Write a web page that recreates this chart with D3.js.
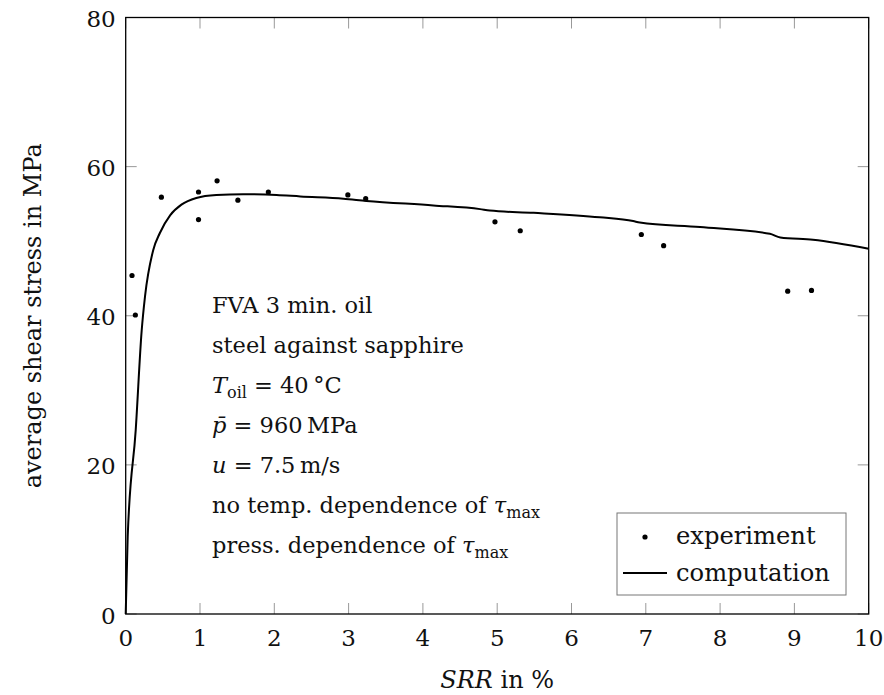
<!DOCTYPE html>
<html>
<head>
<meta charset="utf-8">
<script src="https://cdn.jsdelivr.net/npm/d3@7/dist/d3.min.js"></script>
<style>
  html, body { margin: 0; padding: 0; background: #fff; }
  svg { display: block; }
  text { font-family: "DejaVu Serif", "Liberation Serif", serif; fill: #111; }
</style>
</head>
<body>
<svg id="chart" width="884" height="695"></svg>
<script>
// Measured shear stress (experiment)
const expSRR    = [0.085, 0.13, 0.48, 0.98, 0.98, 1.23, 1.51, 1.92, 2.99, 3.23, 4.97, 5.31, 6.94, 7.24, 8.91, 9.23];
const expStress = [45.4, 40.1, 55.9, 56.6, 52.9, 58.1, 55.5, 56.6, 56.2, 55.7, 52.6, 51.4, 50.9, 49.4, 43.3, 43.4];

// Computed shear stress (model)
const compSRR    = [0, 0.027, 0.135, 0.215, 0.26, 0.37, 0.46, 0.6, 0.75, 0.95, 1.22, 1.58, 2.03, 2.35, 2.93, 3.24, 4.14, 4.77, 4.9, 5.49, 6.38, 6.83, 6.92, 7.73, 8.67, 8.81, 9.25, 10];
const compStress = [0, 10.4, 24.7, 38.0, 42.6, 48.8, 51.1, 53.5, 54.9, 55.8, 56.2, 56.3, 56.2, 56.0, 55.7, 55.4, 54.8, 54.3, 54.1, 53.8, 53.2, 52.7, 52.5, 51.9, 51.0, 50.5, 50.2, 49.0];

// Axis ticks
const xTicks = [0, 1, 2, 3, 4, 5, 6, 7, 8, 9, 10];
const yTicks = [0, 20, 40, 60, 80];

const svg = d3.select("#chart");
const pLeft = 125.7, pRight = 868.7, pTop = 17.5, pBottom = 614;

const x = d3.scaleLinear().domain([0, 10]).range([pLeft, pRight]);
const y = d3.scaleLinear().domain([0, 80]).range([pBottom, pTop]);

const tickLen = 11;
const tickColor = "#999";

// tick marks on all four sides, pointing inward
const g = svg.append("g");
g.append("g").selectAll("line").data(xTicks).join("line")
  .attr("x1", d => x(d)).attr("x2", d => x(d))
  .attr("y1", pBottom).attr("y2", pBottom - tickLen)
  .attr("stroke", tickColor).attr("stroke-width", 1);
g.append("g").selectAll("line").data(xTicks).join("line")
  .attr("x1", d => x(d)).attr("x2", d => x(d))
  .attr("y1", pTop).attr("y2", pTop + tickLen)
  .attr("stroke", tickColor).attr("stroke-width", 1);
g.append("g").selectAll("line").data(yTicks).join("line")
  .attr("x1", pLeft).attr("x2", pLeft + tickLen)
  .attr("y1", d => y(d)).attr("y2", d => y(d))
  .attr("stroke", tickColor).attr("stroke-width", 1);
g.append("g").selectAll("line").data(yTicks).join("line")
  .attr("x1", pRight).attr("x2", pRight - tickLen)
  .attr("y1", d => y(d)).attr("y2", d => y(d))
  .attr("stroke", tickColor).attr("stroke-width", 1);

// frame
svg.append("rect")
  .attr("x", pLeft).attr("y", pTop)
  .attr("width", pRight - pLeft).attr("height", pBottom - pTop)
  .attr("fill", "none").attr("stroke", "#000").attr("stroke-width", 1.3);

// tick labels
const fs = 23;
svg.append("g").selectAll("text").data(xTicks).join("text")
  .attr("x", d => x(d)).attr("y", pBottom + 32)
  .attr("text-anchor", "middle").attr("font-size", fs)
  .text(d => d);
svg.append("g").selectAll("text").data(yTicks).join("text")
  .attr("x", pLeft - 10).attr("y", d => y(d) + 9.5)
  .attr("text-anchor", "end").attr("font-size", fs)
  .text(d => d);

// axis titles
const xl = svg.append("text")
  .attr("x", (pLeft + pRight) / 2).attr("y", 688)
  .attr("text-anchor", "middle").attr("font-size", 24);
xl.append("tspan").attr("font-style", "italic").text("SRR");
xl.append("tspan").text(" in %");

svg.append("text")
  .attr("transform", `translate(41,${(pTop + pBottom) / 2}) rotate(-90)`)
  .attr("text-anchor", "middle").attr("font-size", 24)
  .text("average shear stress in MPa");

// computed curve
const comp = compSRR.map((v, i) => [v, compStress[i]]);
svg.append("path")
  .datum(comp)
  .attr("fill", "none").attr("stroke", "#000").attr("stroke-width", 2)
  .attr("stroke-linejoin", "round")
  .attr("d", d3.line().x(d => x(d[0])).y(d => y(d[1])).curve(d3.curveMonotoneX));

// measured points
const exp = expSRR.map((v, i) => [v, expStress[i]]);
svg.append("g").selectAll("circle").data(exp).join("circle")
  .attr("cx", d => x(d[0])).attr("cy", d => y(d[1]))
  .attr("r", 2.6).attr("fill", "#000");

// parameter annotation
const ax = 212, ay0 = 313, dy = 40, afs = 22.5, sfs = 16;
const lines = [
  t => t.append("tspan").text("FVA 3 min. oil"),
  t => t.append("tspan").text("steel against sapphire"),
  t => {
    t.append("tspan").attr("font-style", "italic").text("T");
    t.append("tspan").attr("font-size", sfs).attr("dy", 5).text("oil");
    t.append("tspan").attr("dy", -5).text(" = 40\u2009°C");
  },
  t => {
    t.append("tspan").attr("font-style", "italic").text("p\u0304");
    t.append("tspan").text(" = 960\u2009MPa");
  },
  t => {
    t.append("tspan").attr("font-style", "italic").text("u");
    t.append("tspan").text(" = 7.5\u2009m/s");
  },
  t => {
    t.append("tspan").text("no temp. dependence of ");
    t.append("tspan").attr("font-style", "italic").text("τ");
    t.append("tspan").attr("font-size", sfs).attr("dy", 5).text("max");
  },
  t => {
    t.append("tspan").text("press. dependence of ");
    t.append("tspan").attr("font-style", "italic").text("τ");
    t.append("tspan").attr("font-size", sfs).attr("dy", 5).text("max");
  }
];
lines.forEach((fn, i) => {
  const t = svg.append("text")
    .attr("x", ax).attr("y", ay0 + i * dy)
    .attr("font-size", afs);
  fn(t);
});

// legend: text column from x=676 to x=830, box from the sample to x=846
const lgRight = 846, lgTop = 513, lgBottom = 595, textX = 676, textRight = 830;
const lg = svg.append("g");
const box = lg.append("rect")
  .attr("y", lgTop).attr("height", lgBottom - lgTop)
  .attr("fill", "#fff").attr("stroke", "#777").attr("stroke-width", 1);
const t1 = lg.append("text").attr("x", textX).attr("y", 544).attr("font-size", afs).text("experiment");
const t2 = lg.append("text").attr("x", textX).attr("y", 581).attr("font-size", afs).text("computation");
const lfs = afs * (textRight - textX) / t2.node().getComputedTextLength();
t1.attr("font-size", lfs); t2.attr("font-size", lfs);
const sampleR = textX - 9, sampleL = sampleR - 44;
box.attr("x", sampleL - 6).attr("width", lgRight - (sampleL - 6));
lg.append("circle").attr("cx", (sampleL + sampleR) / 2).attr("cy", 537).attr("r", 2.6).attr("fill", "#000");
lg.append("line").attr("x1", sampleL).attr("x2", sampleR).attr("y1", 573).attr("y2", 573)
  .attr("stroke", "#000").attr("stroke-width", 2);
</script>
</body>
</html>
